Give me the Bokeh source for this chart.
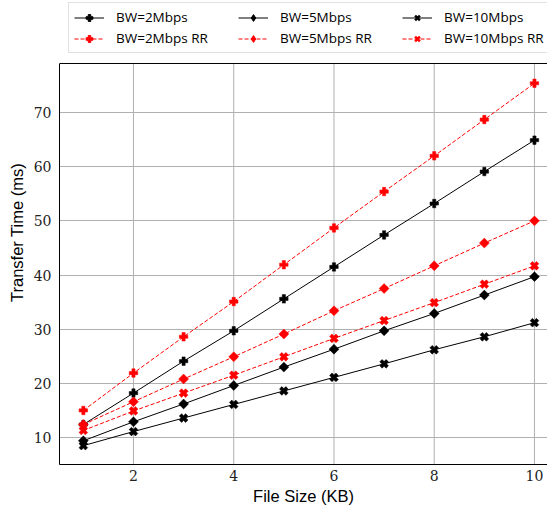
import math
from bokeh.plotting import figure
from bokeh.models import Legend, LegendItem, Range1d, FixedTicker, Span
from bokeh.embed import file_html
from bokeh.resources import INLINE

file_size = [1, 2, 3, 4, 5, 6, 7, 8, 9, 10]
bw2 = [12.4, 18.2, 24.1, 29.7, 35.6, 41.5, 47.4, 53.2, 59.1, 64.9]
bw2_rr = [15.0, 21.9, 28.6, 35.1, 41.9, 48.7, 55.4, 62.0, 68.7, 75.4]
bw5 = [9.4, 12.9, 16.2, 19.6, 23.0, 26.3, 29.7, 32.9, 36.3, 39.7]
bw5_rr = [12.4, 16.6, 20.8, 24.9, 29.1, 33.4, 37.5, 41.7, 45.9, 50.0]
bw10 = [8.5, 11.1, 13.6, 16.1, 18.6, 21.1, 23.6, 26.2, 28.6, 31.2]
bw10_rr = [11.3, 14.9, 18.2, 21.5, 24.9, 28.3, 31.6, 34.9, 38.3, 41.7]
labels = ["BW=2Mbps", "BW=5Mbps", "BW=10Mbps",
          "BW=2Mbps RR", "BW=5Mbps RR", "BW=10Mbps RR"]
x_ticks = [2, 4, 6, 8, 10]
y_ticks = [10, 20, 30, 40, 50, 60, 70]

Y_LO = 5.02      # bottom of the axes box
Y_TOP = 79.05    # top spine of the axes box
Y_FRAME = 90.68  # frame extends above the box to hold the legend

p = figure(width=547, height=510, output_backend="svg", toolbar_location=None,
           title=None,
           x_range=Range1d(0.524, 10.26), y_range=Range1d(Y_LO, Y_FRAME),
           min_border_left=59, min_border_right=0, min_border_top=0,
           min_border_bottom=46)

p.outline_line_color = None
p.background_fill_color = "white"
p.border_fill_color = "white"

for ax in (p.xaxis[0], p.yaxis[0]):
    ax.axis_line_color = "black"
    ax.axis_line_width = 1
    ax.major_tick_out = 0
    ax.major_tick_in = 0
    ax.minor_tick_out = 0
    ax.minor_tick_in = 0
    ax.major_label_text_font = "DejaVu Serif"
    ax.major_label_text_font_size = "14px"
    ax.major_label_text_color = "#222222"
    ax.axis_label_text_font = "Liberation Sans"
    ax.axis_label_text_font_size = "16.5px"
    ax.axis_label_text_font_style = "normal"
    ax.axis_label_text_color = "black"

p.xaxis.ticker = FixedTicker(ticks=x_ticks)
p.yaxis.ticker = FixedTicker(ticks=y_ticks)
p.yaxis.bounds = (Y_LO, Y_TOP)
p.xaxis.axis_label = "File Size (KB)"
p.yaxis.axis_label = "Transfer Time (ms)"
p.xaxis.major_label_standoff = 5
p.yaxis.major_label_standoff = 8
p.xaxis.axis_label_standoff = 3
p.yaxis.axis_label_standoff = 5

p.xgrid.visible = False
p.ygrid.grid_line_color = "#b0b0b0"
p.ygrid.grid_line_width = 1
# vertical grid lines, limited to the axes box
p.segment(x0=x_ticks, y0=[Y_LO] * len(x_ticks), x1=x_ticks,
          y1=[Y_TOP] * len(x_ticks), line_color="#b0b0b0", line_width=1)

p.add_layout(Span(location=Y_TOP, dimension="width", line_color="black",
                  line_width=1))

series = [
    (bw2, "black", "solid", "plus", 0.0, 8.5, "plus", 1),
    (bw5, "black", "solid", "square", math.pi / 4, 7, "diamond", 1),
    (bw10, "black", "solid", "plus", math.pi / 4, 9, "x", 2.5),
    (bw2_rr, "red", "4 2", "plus", 0.0, 8.5, "plus", 1),
    (bw5_rr, "red", "4 2", "square", math.pi / 4, 7, "diamond", 1),
    (bw10_rr, "red", "4 2", "plus", math.pi / 4, 9, "x", 2.5),
]

items = []
for (ys, col, dash, marker, ang, size, lmarker, lw), lab in zip(series, labels):
    lr = p.line(file_size, ys, line_color=col, line_width=1.0, line_dash=dash)
    p.scatter(file_size, ys, marker=marker, angle=ang, size=size,
              fill_color=col, line_color=col, line_width=0.5)
    # legend key marker (no data point drawn)
    kr = p.scatter([float("nan")], [float("nan")], marker=lmarker, size=size,
                   fill_color=col, line_color=col, line_width=lw)
    items.append(LegendItem(label=lab, renderers=[lr, kr]))

legend = Legend(items=items, location=(9, 411), orientation="horizontal",
                ncols=3, margin=0, padding=5, spacing=3,
                glyph_width=30, glyph_height=17, label_height=17,
                label_width=119, label_standoff=12,
                label_text_font="Open Sans", label_text_font_size="13.5px",
                label_text_color="black",
                border_line_color="#c4c4c4", border_line_width=1.3,
                background_fill_color="white", background_fill_alpha=1.0)
p.add_layout(legend, "center")

open("out.html", "w").write(file_html(p, INLINE))
